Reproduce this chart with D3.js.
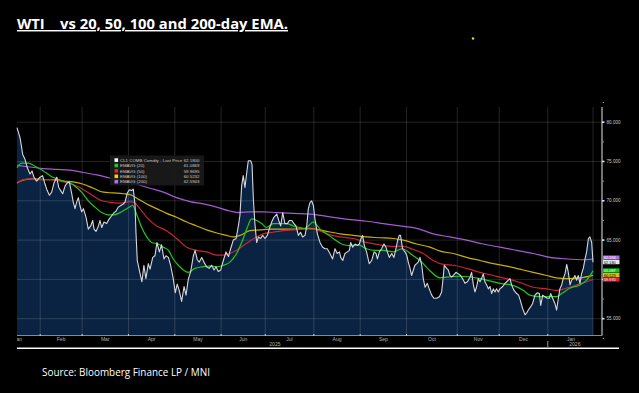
<!DOCTYPE html>
<html><head><meta charset="utf-8">
<script src="https://cdn.jsdelivr.net/npm/d3@7"></script>
<style>html,body{margin:0;padding:0;background:#000;} svg{display:block;}</style>
</head><body><svg id="c" width="639" height="393"></svg>
<script>
// ---------- DATA ----------
const titleText = "WTI    vs 20, 50, 100 and 200-day EMA.";
const sourceText = "Source: Bloomberg Finance LP / MNI";
const monthLabels = ["Jan","Feb","Mar","Apr","May","Jun","Jul","Aug","Sep","Oct","Nov","Dec","Jan"];
const monthTradingDays = [11,19,21,21,21,20,22,21,21,23,19,22,21];
const firstMonthFullDays = 20;
const yearLabels = ["2025","2026"];
const yTicks = [55,60,65,70,75,80];
const yTickLabels = ["55.000","","65.000","70.000","75.000","80.000"];
const legendNames = ["CL1 COMB Comdty - Last Price","EMAVG (20)","EMAVG (50)","EMAVG (100)","EMAVG (200)"];
const legendValues = ["62.1800","61.0869","59.9695","60.5232","62.5943"];
const lastLabels = ["62.180","61.087","59.970","60.523","62.594"];

// [trading-day index, price]
const price = [[0,79.3],[1.4,78.0],[2.6,75.9],[3.6,75.3],[4.7,74.2],[5.9,73.4],[6.8,73.8],[7.7,73.0],[8.9,72.5],[10.4,73.0],[11.6,73.2],[12.5,72.3],[13.7,71.3],[14.7,70.7],[15.7,71.1],[16.8,72.3],[18.0,73.0],[18.9,71.7],[19.8,71.3],[20.7,70.9],[21.8,71.9],[22.8,72.3],[23.7,72.4],[24.8,70.9],[25.5,69.8],[26.3,69.0],[27.0,69.8],[27.8,70.4],[28.5,69.4],[29.3,68.6],[30.1,69.0],[31.3,67.9],[32.3,66.4],[33.4,66.8],[34.3,67.5],[34.9,66.4],[35.8,66.1],[36.9,66.8],[37.6,67.5],[38.4,66.6],[39.4,67.3],[40.6,67.1],[41.8,67.7],[42.9,68.1],[44.0,68.5],[44.9,68.7],[45.9,69.2],[47.0,69.4],[48.2,69.6],[48.9,69.8],[50.0,71.0],[50.9,71.4],[51.9,71.3],[52.7,71.5],[53.5,69.4],[53.9,66.0],[54.5,62.4],[55.4,61.2],[56.6,59.7],[57.5,61.8],[58.4,60.1],[59.5,62.0],[60.3,61.3],[61.5,62.8],[62.5,63.0],[63.4,64.7],[64.5,63.5],[65.5,64.4],[66.6,62.6],[67.5,63.0],[68.6,62.8],[69.6,61.8],[70.8,60.1],[71.7,58.3],[72.6,59.4],[73.5,58.6],[74.6,57.2],[75.7,59.1],[76.6,58.0],[77.6,60.0],[78.7,61.0],[79.9,63.0],[80.7,63.7],[81.7,62.5],[82.6,62.2],[83.7,62.8],[84.7,62.2],[85.9,61.6],[87.1,61.4],[88.2,61.8],[89.3,61.2],[90.2,61.6],[91.2,61.0],[92.3,61.2],[93.6,62.5],[94.7,63.5],[95.8,62.9],[96.8,63.9],[98.0,65.0],[99.3,65.2],[100.3,66.8],[101.0,68.1],[101.8,71.9],[102.5,73.2],[103.3,71.7],[104.1,73.6],[104.8,75.1],[105.9,75.1],[106.5,74.6],[107.1,70.2],[107.8,67.1],[108.6,64.7],[109.4,65.4],[110.4,65.2],[111.3,65.6],[112.4,65.2],[113.4,65.6],[114.3,66.4],[115.4,67.3],[116.4,67.9],[117.7,68.3],[118.6,67.5],[119.5,66.8],[120.4,68.5],[121.4,67.1],[122.5,67.1],[123.4,67.5],[124.5,67.5],[125.5,67.1],[126.4,66.8],[127.5,65.6],[128.5,66.0],[129.4,65.4],[130.5,65.6],[131.3,66.8],[132.0,69.0],[132.8,69.8],[133.5,70.0],[134.3,69.4],[135.0,67.7],[136.1,65.8],[137.3,64.7],[138.5,64.1],[139.6,63.9],[140.6,63.9],[141.8,63.3],[143.0,62.6],[144.1,63.9],[145.1,63.3],[146.1,63.5],[146.7,62.8],[147.6,62.4],[148.6,63.3],[149.7,63.5],[150.6,63.7],[151.2,64.7],[152.1,64.1],[153.2,64.5],[154.2,64.3],[155.1,64.5],[155.9,65.2],[156.6,65.6],[157.4,64.3],[158.4,63.5],[159.6,62.0],[160.7,62.4],[161.8,63.5],[162.7,63.3],[163.3,62.6],[164.2,63.5],[165.2,63.9],[166.3,64.5],[167.2,64.1],[167.8,63.5],[168.7,62.8],[169.8,63.3],[170.8,62.8],[171.7,63.9],[172.5,65.0],[173.2,65.6],[173.8,65.6],[174.7,63.9],[175.8,63.5],[176.6,63.1],[177.3,62.2],[178.1,61.4],[178.8,60.5],[179.6,61.2],[180.3,61.8],[181.1,62.0],[181.8,62.2],[182.6,62.8],[183.4,61.8],[184.1,60.1],[184.9,59.0],[185.9,59.5],[186.8,58.8],[187.9,58.0],[188.9,57.6],[190.2,57.6],[191.4,57.8],[192.4,58.4],[193.2,60.5],[193.6,61.8],[194.7,61.4],[195.4,61.2],[196.2,60.5],[196.9,60.3],[197.7,60.5],[198.9,60.9],[200.0,60.7],[201.0,60.5],[201.9,60.1],[203.0,59.5],[204.1,59.7],[205.3,60.3],[206.0,60.9],[206.8,59.3],[207.5,58.4],[208.3,59.1],[209.0,60.1],[209.8,59.7],[210.5,60.1],[211.3,60.7],[212.0,59.7],[212.8,59.3],[213.6,58.8],[214.3,59.1],[215.1,58.2],[215.8,58.8],[216.6,58.4],[217.3,58.8],[218.1,58.4],[218.8,58.8],[220.1,59.1],[221.1,59.5],[221.9,59.7],[222.6,59.9],[223.4,60.1],[224.1,59.3],[225.2,58.6],[226.4,58.2],[227.3,58.0],[228.2,57.2],[229.1,56.3],[230.2,55.5],[230.9,55.7],[231.7,56.1],[232.7,56.5],[233.6,56.9],[234.7,58.0],[235.8,58.3],[236.7,58.2],[237.3,56.7],[238.2,58.0],[239.2,57.8],[240.3,57.6],[241.2,57.6],[241.8,58.2],[242.7,57.6],[243.8,56.9],[244.5,56.1],[245.3,57.6],[246.0,58.8],[246.8,59.3],[247.5,60.1],[248.3,60.7],[249.1,61.9],[249.8,60.9],[250.6,59.3],[251.3,59.9],[252.1,60.1],[252.8,60.5],[253.6,59.9],[254.3,60.5],[255.1,59.5],[255.8,60.7],[256.6,61.4],[257.4,62.6],[258.1,63.5],[258.9,65.2],[259.6,65.4],[260.4,64.7],[261,62.18]];

const ema20 = [[0,74.2],[2.1,74.8],[5.1,74.8],[8.2,74.4],[12.0,73.8],[15.0,73.2],[18.0,72.8],[21.0,72.5],[24.0,72.3],[27.0,71.7],[29.3,71.1],[32.3,70.0],[35.3,69.2],[38.4,68.5],[41.4,68.2],[43.7,68.2],[46.7,68.5],[49.7,69.0],[52.4,69.4],[54.2,68.3],[56.5,66.6],[58.8,65.4],[61.0,64.7],[64.0,64.5],[66.3,64.1],[68.6,63.7],[70.8,62.6],[73.1,61.8],[75.4,61.2],[77.6,60.9],[80.6,61.4],[83.7,61.6],[87.4,61.7],[90.5,61.6],[93.5,61.8],[96.5,62.2],[99.5,63.3],[101.8,64.7],[104.1,66.4],[106.3,67.7],[108.6,67.5],[110.9,67.1],[113.1,66.6],[116.1,67.1],[119.2,67.1],[122.2,67.1],[125.2,66.8],[128.2,66.6],[130.5,66.5],[134.3,67.3],[137.3,66.4],[140.3,65.8],[143.3,65.2],[147.1,64.5],[150.9,64.3],[154.7,64.4],[158.4,63.9],[162.2,63.7],[166.0,63.7],[170.5,63.5],[174.5,63.9],[179.6,63.0],[183.0,62.3],[187.1,61.1],[191.7,60.2],[194.7,60.3],[200.7,60.4],[209.8,60.1],[218.8,59.5],[225.0,59.2],[229.5,58.6],[232.4,58.0],[237.0,57.8],[244.5,57.8],[246.8,58.2],[250.6,58.9],[255.1,59.3],[258.1,59.9],[261,61.09]];

const ema50 = [[0,72.2],[2.9,72.7],[5.9,72.8],[10.4,72.7],[15.0,72.7],[19.5,72.5],[24.0,72.2],[28.5,71.7],[33.1,70.9],[37.6,70.1],[42.1,69.8],[46.7,69.7],[51.2,69.9],[53.0,69.8],[55.7,69.0],[58.8,67.9],[63.3,66.8],[67.8,66.2],[72.3,65.2],[76.9,64.1],[81.4,63.7],[85.9,63.5],[90.5,63.1],[93.5,63.1],[96.5,63.3],[99.5,63.7],[102.6,64.3],[105.6,64.9],[108.6,65.4],[111.6,65.8],[116.1,66.0],[120.7,66.2],[125.2,66.3],[130.0,66.4],[134.3,66.4],[140.3,65.8],[146.4,65.4],[152.4,65.2],[158.4,64.7],[164.5,64.4],[170.5,64.2],[175.0,64.2],[179.6,63.8],[184.1,63.3],[188.6,62.4],[193.2,61.9],[197.7,61.8],[203.7,61.4],[209.8,60.9],[215.8,60.5],[221.9,60.1],[227.9,59.6],[233.9,59.0],[240.0,58.8],[244.5,58.6],[249.1,58.9],[253.6,59.3],[258.1,59.7],[261,59.97]];

const ema100 = [[0,72.3],[3.6,72.7],[7.4,72.8],[12.0,72.7],[16.5,72.7],[21.0,72.5],[25.5,72.4],[30.1,72.1],[34.6,71.6],[39.1,71.1],[43.6,71.0],[48.2,70.9],[52.0,70.7],[55.0,70.2],[58.8,69.6],[63.3,69.0],[67.8,68.4],[72.3,67.9],[76.9,67.3],[81.4,66.8],[85.9,66.3],[90.5,65.9],[95.0,65.6],[98.0,65.4],[101.0,65.6],[105.6,66.2],[110.1,66.3],[114.6,66.4],[120.7,66.4],[126.7,66.4],[132.8,66.5],[140.3,66.1],[146.4,65.8],[152.4,65.6],[158.4,65.4],[164.5,65.3],[170.5,65.2],[175.0,65.0],[181.1,64.5],[187.1,64.1],[191.7,63.6],[197.7,63.3],[203.7,62.8],[209.8,62.4],[215.8,62.0],[221.9,61.7],[227.9,61.3],[233.9,60.9],[240.0,60.5],[244.5,60.2],[249.1,60.1],[255.1,60.2],[261,60.52]];

const ema200 = [[0,74.5],[5.9,74.3],[12.0,74.1],[18.0,74.0],[24.0,73.9],[30.1,73.6],[36.1,73.3],[42.1,72.9],[48.2,72.6],[54.2,72.1],[60.3,71.6],[66.3,71.1],[72.3,70.4],[78.4,69.9],[84.4,69.6],[90.5,69.2],[96.5,68.7],[101.0,68.5],[105.6,68.6],[111.6,68.6],[117.7,68.5],[125.2,68.4],[132.8,68.3],[143.3,67.9],[151.2,67.6],[158.4,67.4],[166.0,67.1],[173.5,66.8],[181.1,66.5],[188.6,65.8],[196.2,65.4],[203.7,65.0],[211.3,64.5],[218.8,64.1],[226.4,63.7],[234.0,63.3],[241.5,62.8],[249.1,62.6],[256.6,62.5],[261,62.59]];

// ---------- LAYOUT ----------
const W = 639, H = 393;
const plotL = 17, plotR = 593, axisX = 602, plotT = 107, plotB = 335.5;
const colors = {price:"#d4d8dc", e20:"#1ec81e", e50:"#c8243a", e100:"#c8b000", e200:"#a45ad4", fill:"#0b2342"};

const svg = d3.select("#c");
svg.append("rect").attr("width",W).attr("height",H).attr("fill","#000");

const nDays = d3.sum(monthTradingDays);
const x = d3.scaleLinear().domain([0, nDays-1]).range([plotL, plotR]);
const y = d3.scaleLinear().domain([55,80]).range([318.7,122.2]);

// month boundaries
const cum = d3.cumsum(monthTradingDays);
const bounds = Array.from(cum).slice(0,-1).map(c => c - 0.5);
const monthStart = monthTradingDays.map((d,i) => i===0 ? cum[0]-0.5-firstMonthFullDays : cum[i-1]-0.5);
const monthEnd = Array.from(cum).map(c => c - 0.5);

svg.append("defs").append("clipPath").attr("id","plotclip")
  .append("rect").attr("x",plotL).attr("y",plotT).attr("width",axisX-plotL).attr("height",plotB-plotT+12);

// area
const area = d3.area().x(d=>x(d[0])).y0(plotB).y1(d=>y(d[1])).curve(d3.curveLinear);
svg.append("path").datum(price).attr("d",area).attr("fill",colors.fill);

// grid
const grid = svg.append("g").attr("stroke","rgba(255,255,255,0.14)").attr("stroke-width",1);
grid.selectAll("line.h").data(yTicks).join("line")
  .attr("x1",plotL).attr("x2",axisX).attr("y1",d=>y(d)).attr("y2",d=>y(d));
grid.selectAll("line.v").data(bounds.concat([nDays-1])).join("line")
  .attr("x1",d=>x(d)).attr("x2",d=>x(d)).attr("y1",plotT).attr("y2",plotB);

// lines
const line = d3.line().x(d=>x(d[0])).y(d=>y(d[1])).curve(d3.curveMonotoneX);
const series = [[ema200,colors.e200],[ema100,colors.e100],[ema50,colors.e50],[ema20,colors.e20]];
series.forEach(([s,c]) => svg.append("path").datum(s).attr("d",line)
  .attr("fill","none").attr("stroke",c).attr("stroke-width",1.2));
svg.append("path").datum(price).attr("d",d3.line().x(d=>x(d[0])).y(d=>y(d[1])))
  .attr("fill","none").attr("stroke",colors.price).attr("stroke-width",1.1).attr("stroke-linejoin","round");

// bottom axis
svg.append("line").attr("x1",plotL).attr("x2",axisX).attr("y1",plotB).attr("y2",plotB)
  .attr("stroke","#8a8a8a").attr("stroke-width",1);
svg.selectAll("line.bt").data(bounds).join("line")
  .attr("x1",d=>x(d)).attr("x2",d=>x(d)).attr("y1",plotB-1.5).attr("y2",plotB+0.5)
  .attr("stroke","#cfcfcf").attr("stroke-width",1);

// month labels
const mg = svg.append("g").attr("clip-path","url(#plotclip)");
mg.selectAll("text").data(monthLabels).join("text")
  .attr("x",(d,i)=>x((monthStart[i]+monthEnd[i])/2)).attr("y",340.5)
  .attr("text-anchor","middle").attr("font-family","Liberation Sans, Arial, sans-serif")
  .attr("font-size",5).attr("fill","#b0b0b0").text(d=>d);

// year labels
const yearBoundary = bounds[11];
const yearPos = [x((monthStart[0]+yearBoundary)/2)+3, (x(yearBoundary)+axisX)/2];
svg.selectAll("text.yr").data(yearLabels).join("text")
  .attr("x",(d,i)=>yearPos[i]).attr("y",346)
  .attr("text-anchor","middle").attr("font-family","Liberation Sans, Arial, sans-serif")
  .attr("font-size",5).attr("fill","#b0b0b0").text(d=>d);
svg.append("line").attr("x1",x(yearBoundary)).attr("x2",x(yearBoundary)).attr("y1",341).attr("y2",347)
  .attr("stroke","#9a9a9a").attr("stroke-width",1);

// right axis
svg.append("line").attr("x1",axisX).attr("x2",axisX).attr("y1",plotT).attr("y2",plotB)
  .attr("stroke","#9a9a9a").attr("stroke-width",1.5);
svg.selectAll("rect.tk").data(yTicks).join("rect")
  .attr("x",axisX).attr("y",d=>y(d)-0.8).attr("width",2.5).attr("height",1.6).attr("fill","#e0e0e0");
svg.selectAll("rect.mtk").data(yTicks.map(v=>v+2.5).concat([52.5])).join("rect")
  .attr("x",axisX+0.8).attr("y",d=>y(d)-0.5).attr("width",1).attr("height",1).attr("fill","#bbb");
svg.selectAll("text.yl").data(yTicks).join("text")
  .attr("x",axisX+4.5).attr("y",d=>y(d)).attr("dy","0.35em")
  .attr("font-family","Liberation Sans, Arial, sans-serif").attr("font-size",4.6).attr("fill","#c8c8c8")
  .text((d,i)=>yTickLabels[i]);

// last value boxes
const lastSeries = [
  {v:price[price.length-1][1], c:"#e6e6e6", t:"#000", lab:lastLabels[0]},
  {v:ema20[ema20.length-1][1], c:"#14c414", t:"#fff", lab:lastLabels[1]},
  {v:ema50[ema50.length-1][1], c:"#e0203c", t:"#fff", lab:lastLabels[2]},
  {v:ema100[ema100.length-1][1], c:"#d6c000", t:"#000", lab:lastLabels[3]},
  {v:ema200[ema200.length-1][1], c:"#b06ee0", t:"#fff", lab:lastLabels[4]}
];
lastSeries.forEach(d=>d.y=y(d.v));
const sorted = lastSeries.slice().sort((a,b)=>a.y-b.y);
const bh = 4.5;
for (let i = sorted.length-2; i >= 0; i--) if (sorted[i].y > sorted[i+1].y - bh) sorted[i].y = sorted[i+1].y - bh;
const lb = svg.append("g");
lb.selectAll("rect").data(lastSeries).join("rect")
  .attr("x",axisX+1).attr("y",d=>d.y-bh/2).attr("width",16.5).attr("height",bh-0.3).attr("fill",d=>d.c);
lb.selectAll("text").data(lastSeries).join("text")
  .attr("x",axisX+2).attr("y",d=>d.y).attr("dy","0.36em")
  .attr("font-family","Liberation Sans, Arial, sans-serif").attr("font-size",3.8).attr("fill",d=>d.t)
  .text(d=>d.lab);

// legend
const lg = svg.append("g");
lg.append("rect").attr("x",110).attr("y",155.5).attr("width",94).attr("height",30)
  .attr("fill","#1a1a1a").attr("opacity",0.92);
const legColors = ["#ffffff",colors.e20,"#e0203c","#e8d800","#b46ee8"];
lg.selectAll("rect.sw").data(legendNames).join("rect")
  .attr("x",114.5).attr("y",(d,i)=>158.3+i*5.4).attr("width",3.6).attr("height",3.6)
  .attr("fill",(d,i)=>legColors[i]);
lg.selectAll("text.ln").data(legendNames).join("text")
  .attr("x",120).attr("y",(d,i)=>160.2+i*5.4).attr("dy","0.35em")
  .attr("font-family","Liberation Sans, Arial, sans-serif").attr("font-size",4.4).attr("fill","#c8c8c8")
  .text(d=>d);
lg.selectAll("text.lv").data(legendValues).join("text")
  .attr("x",199.5).attr("y",(d,i)=>160.2+i*5.4).attr("dy","0.35em").attr("text-anchor","end")
  .attr("font-family","Liberation Sans, Arial, sans-serif").attr("font-size",4.4).attr("fill","#c8c8c8")
  .text(d=>d);

// title
svg.append("text").attr("x",17).attr("y",29).attr("font-family","Open Sans, Liberation Sans, sans-serif")
  .attr("font-weight",700).attr("font-size",14.5).attr("fill","#fff")
  .attr("text-decoration","underline").style("white-space","pre")
  .attr("textLength",271).attr("lengthAdjust","spacingAndGlyphs").text(titleText);
// small yellow dot
svg.append("circle").attr("cx",473).attr("cy",38.5).attr("r",1.2).attr("fill","#e8e000");

// footer rule and source
svg.append("line").attr("x1",17).attr("x2",619).attr("y1",348.3).attr("y2",348.3)
  .attr("stroke","#fff").attr("stroke-width",1.4);
svg.append("text").attr("x",42).attr("y",376).attr("font-family","Open Sans, Liberation Sans, sans-serif")
  .attr("font-size",10).attr("fill","#fff").attr("textLength",168).attr("lengthAdjust","spacingAndGlyphs")
  .text(sourceText);
</script></body></html>
